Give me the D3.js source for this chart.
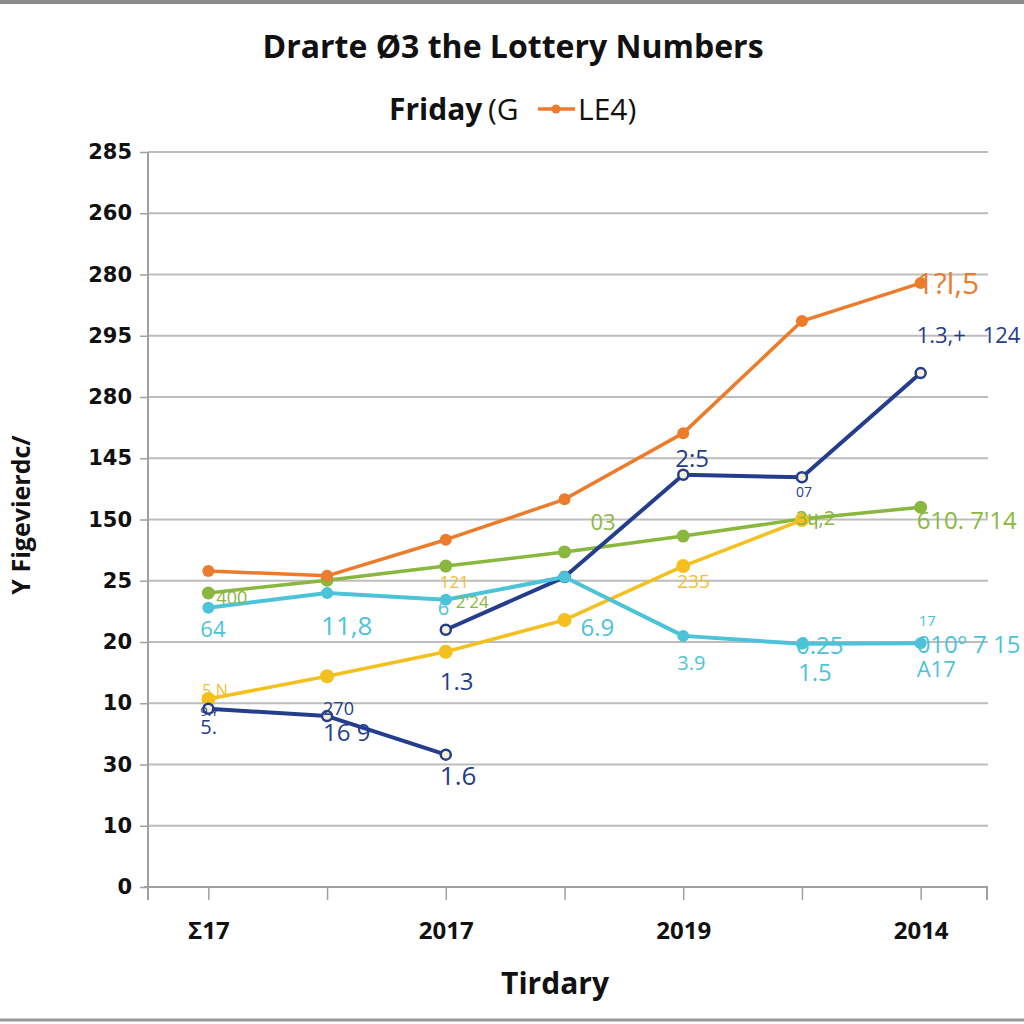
<!DOCTYPE html>
<html><head><meta charset="utf-8">
<script src="https://cdn.jsdelivr.net/npm/d3@7"></script>
<style>
html,body{margin:0;padding:0;background:#fff;}
svg{display:block;}
</style></head>
<body>
<svg id="c" width="1024" height="1024"></svg>
<script>
// ---- data ----
const categories = ["c1","c2","c3","c4","c5","c6","c7"];
const xTickLabels = ["\u03A317","","2017","","2019","","2014"];
const yTickLabels = ["0","10","30","10","20","25","150","145","280","295","280","260","285"];
const orangeVals = [5.16,5.08,5.67,6.33,7.41,9.24,9.86];
const greenVals  = [4.80,5.01,5.24,5.47,5.73,6.01,6.20];
const cyanVals   = [4.56,4.80,4.69,5.06,4.10,3.97,3.98];
const yellowVals = [3.07,3.44,3.84,4.36,5.24,5.99,null];
const navyLowVals  = [2.91,2.79,2.16,null,null,null,null];
const navyHighVals = [null,null,4.20,5.06,6.73,6.69,8.39];

const colors = {orange:"#ec7c2c", green:"#8ab73e", cyan:"#4cc3d9", yellow:"#f4c01f", navy:"#243d8c"};

// data labels: [text, categoryIndex, value, dx, dy, color, size]
const labels = [
 ["1?l,5",6,9.86,-4,11,"orange",30],
 ["1.3,+",6,8.39,-4,-30,"navy",22],
 ["124",6,8.39,62,-30,"navy",22],
 ["2:5",4,6.73,-8,-8,"navy",24],
 ["07",5,6.69,-6,20,"navy",14],
 ["03",3,5.47,26,-22,"green",22],
 ["3\u0265,2",5,6.01,-6,6,"green",20],
 ["610. 7'14",6,6.20,-4,22,"green",24],
 ["6",3,5.47,-6,6,"green",16],
 ["121",2,5.24,-6,22,"yellow",17],
 ["2'24",2,4.69,10,8,"green",17],
 ["6",2,4.69,-8,15,"cyan",20],
 ["400",0,4.80,8,11,"green",18],
 ["64",0,4.56,-8,29,"cyan",22],
 ["11,8",1,4.80,-6,42,"cyan",26],
 ["235",4,5.24,-6,22,"yellow",19],
 ["6.9",3,5.06,16,59,"cyan",24],
 ["3.9",4,4.10,-6,34,"cyan",20],
 ["0:25",5,3.97,-6,10,"cyan",24],
 ["1.5",5,3.97,-4,37,"cyan",24],
 ["17",6,3.98,-2,-17,"cyan",15],
 ["010\u00BA 7 15",6,3.98,-4,10,"cyan",24],
 ["A17",6,3.98,-4,34,"cyan",22],
 ["1.3",2,3.84,-6,38,"navy",24],
 ["5.N",0,3.07,-6,-3,"yellow",16],
 ["9.\u028F",0,2.91,-8,7,"navy",13],
 ["5.",0,2.91,-8,25,"navy",20],
 ["270",1,2.79,-4,-1,"navy",18],
 ["16 9",1,2.79,-4,25,"navy",24],
 ["1.6",2,2.16,-6,30,"navy",26]
];

const svg = d3.select("#c");
const W = 1024, H = 1024;
const x = d3.scalePoint().domain(categories).range([149, 980]).padding(0.5);
const y = d3.scaleLinear().domain([0, 12]).range([887, 152]);

// frame
svg.append("line").attr("x1",0).attr("x2",W).attr("y1",2).attr("y2",2).attr("stroke","#8a8a8a").attr("stroke-width",4);
svg.append("line").attr("x1",0).attr("x2",W).attr("y1",1020).attr("y2",1020).attr("stroke","#9a9a9a").attr("stroke-width",3);

// title
svg.append("text").attr("x",513).attr("y",58).attr("text-anchor","middle")
  .attr("font-family","Open Sans, sans-serif").attr("font-weight","bold").attr("font-size",32)
  .attr("fill","#111").text("Drarte \u00D83 the Lottery Numbers");

// subtitle w/ legend
const sub = svg.append("g");
sub.append("text").attr("x",389).attr("y",120).attr("font-family","Open Sans, sans-serif")
  .attr("font-weight","bold").attr("font-size",30).attr("fill","#111").text("Friday");
sub.append("text").attr("x",488).attr("y",120).attr("font-family","Open Sans, sans-serif")
  .attr("font-size",30).attr("fill","#111").text("(G");
sub.append("line").attr("x1",538).attr("x2",575).attr("y1",109).attr("y2",109).attr("stroke",colors.orange).attr("stroke-width",3.5);
sub.append("circle").attr("cx",556).attr("cy",109).attr("r",4.5).attr("fill",colors.orange);
sub.append("text").attr("x",578).attr("y",120).attr("font-family","Open Sans, sans-serif")
  .attr("font-size",30).attr("fill","#111").text("LE4)");

// grid
svg.append("g").selectAll("line").data(d3.range(1,13)).join("line")
  .attr("x1",148).attr("x2",988).attr("y1",d=>y(d)).attr("y2",d=>y(d))
  .attr("stroke","#bdbdbd").attr("stroke-width",2);

// y axis
const yAxis = d3.axisLeft(y).tickValues(d3.range(0,13)).tickSize(8).tickPadding(8)
  .tickFormat(d=>yTickLabels[d]);
const gy = svg.append("g").attr("transform","translate(148,0)").call(yAxis);
gy.select(".domain").attr("stroke","#a0a0a0").attr("stroke-width",2).attr("d","M0,152V900");
gy.selectAll(".tick line").attr("stroke","#a0a0a0").attr("stroke-width",1.5);
gy.selectAll(".tick text").attr("font-family","DejaVu Sans, sans-serif").attr("font-weight","bold")
  .attr("font-size",21).attr("fill","#111");

// x axis
const xAxis = d3.axisBottom(x).tickSize(13).tickPadding(22).tickFormat((d,i)=>xTickLabels[i]);
const gx = svg.append("g").attr("transform","translate(0,887)").call(xAxis);
gx.select(".domain").attr("stroke","#a0a0a0").attr("stroke-width",2).attr("d","M144,0H987V13");
gx.selectAll(".tick line").attr("stroke","#a0a0a0").attr("stroke-width",1.5);
gx.selectAll(".tick text").attr("font-family","Open Sans, sans-serif").attr("font-weight","bold")
  .attr("font-size",24).attr("fill","#111");

// axis titles
svg.append("text").attr("x",555).attr("y",994).attr("text-anchor","middle")
  .attr("font-family","Open Sans, sans-serif").attr("font-weight","bold").attr("font-size",30)
  .attr("fill","#111").text("Tirdary");
svg.append("text").attr("transform","translate(30,515) rotate(-90)").attr("text-anchor","middle")
  .attr("font-family","Open Sans, sans-serif").attr("font-weight","bold").attr("font-size",25)
  .attr("fill","#111").text("Y Figevierdc/");

// lines
const line = d3.line().defined(d=>d.v!=null).x(d=>x(d.c)).y(d=>y(d.v));
function series(vals, color, w, hollow, r){
  const pts = vals.map((v,i)=>({c:categories[i], v}));
  svg.append("path").datum(pts).attr("d",line).attr("fill","none").attr("stroke",color)
    .attr("stroke-width",w).attr("stroke-linejoin","round").attr("stroke-linecap","round");
  svg.append("g").selectAll("circle").data(pts.filter(d=>d.v!=null)).join("circle")
    .attr("cx",d=>x(d.c)).attr("cy",d=>y(d.v)).attr("r",r)
    .attr("fill",hollow?"#f6f0d4":color).attr("stroke",hollow?color:"none").attr("stroke-width",hollow?2.5:0);
}
series(greenVals, colors.green, 3.5, false, 6.5);
series(orangeVals, colors.orange, 3.5, false, 6);
series(yellowVals, colors.yellow, 3.5, false, 7);
series(navyLowVals, colors.navy, 4, true, 5);
series(navyHighVals, colors.navy, 4, true, 5);
series(cyanVals, colors.cyan, 4, false, 6);

// data labels
svg.append("g").selectAll("text").data(labels).join("text")
  .attr("x",d=>x(categories[d[1]])+d[3]).attr("y",d=>y(d[2])+d[4])
  .attr("font-family","Open Sans, sans-serif").attr("font-size",d=>d[6])
  .attr("fill",d=>colors[d[5]]).text(d=>d[0]);
</script>
</body></html>
